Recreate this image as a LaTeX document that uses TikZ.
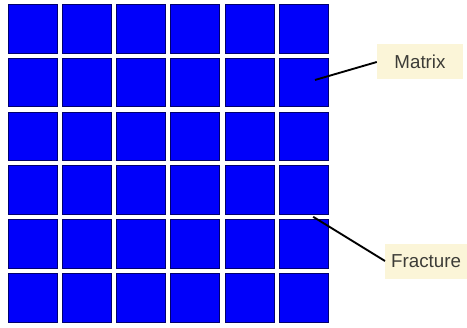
\documentclass[tikz,border=0pt]{standalone}
\usepackage{fontspec}
\setmainfont{Liberation Sans}
\usetikzlibrary{positioning,calc}
\definecolor{cellblue}{RGB}{0,0,250}
\definecolor{celledge}{RGB}{0,0,110}
\definecolor{notefill}{RGB}{251,245,216}
\definecolor{notetext}{RGB}{60,60,55}

\begin{document}
\begin{tikzpicture}[font=\fontsize{16}{19}\selectfont]
\useasboundingbox (0,0) rectangle (14.01,9.81);
\foreach \r in {0,...,5}{
  \foreach \c in {0,...,5}{
    \node[draw=celledge,fill=cellblue,minimum width=1.47cm,minimum height=1.46cm,inner sep=0pt] (c\c\r) at (0.975+\c*1.626,8.955-\r*1.614) {};
  }
}
\coordinate (mpt) at ($(c51.center)+(0.345,0.07)$);
\coordinate (fpt) at ($(c53.south)!.5!(c54.north)+(0.29,0)$);
\node[fill=notefill,text=notetext,minimum width=2.58cm,minimum height=1.05cm] (matrixlbl) at (12.6,7.95) {Matrix};
\node[fill=notefill,text=notetext,anchor=west,minimum height=1.05cm,inner xsep=0.18cm,text width=2.4cm] (fraclbl) at (11.55,1.98) {Fracture};
\draw[line width=1.6pt] (matrixlbl.west) -- (mpt);
\draw[line width=1.6pt] (fraclbl.west) -- (fpt);
\end{tikzpicture}
\end{document}
